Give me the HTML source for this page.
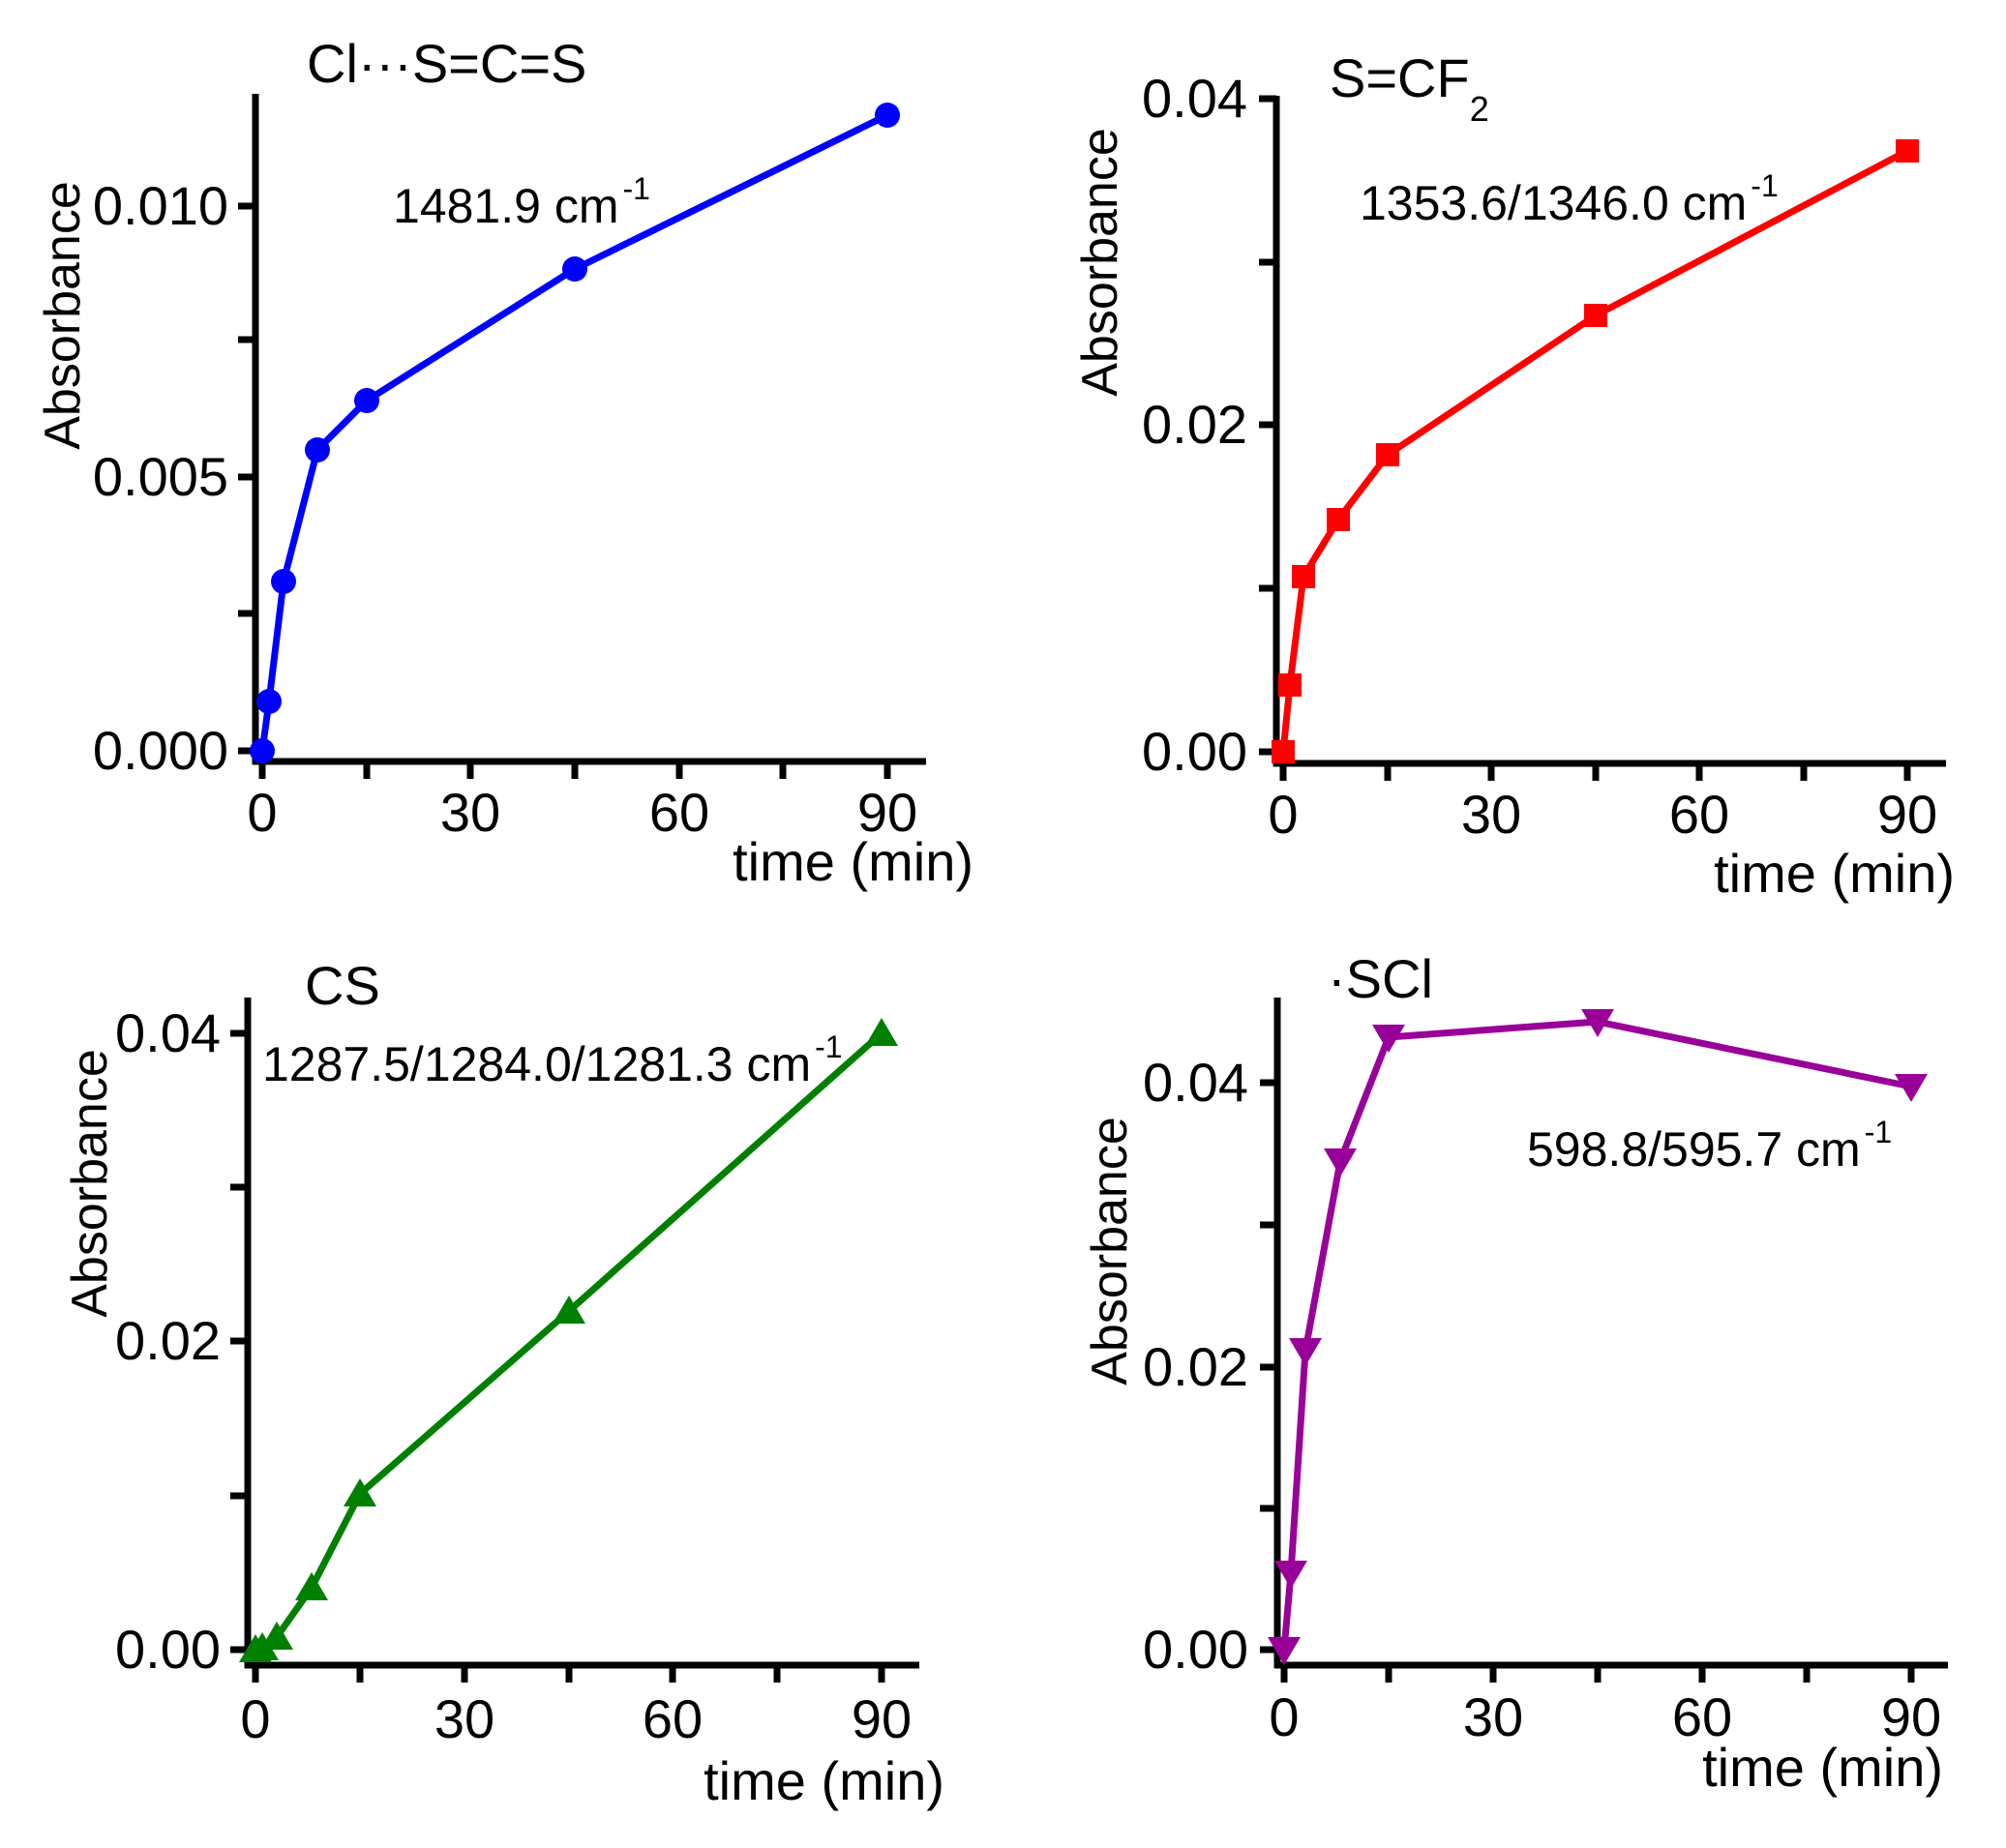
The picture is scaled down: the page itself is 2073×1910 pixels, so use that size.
<!DOCTYPE html>
<html><head><meta charset="utf-8"><style>html,body{margin:0;padding:0;background:#fff}svg{display:block}text{font-family:"Liberation Sans",Arial,sans-serif;fill:#000}</style></head>
<body>
<svg width="2073" height="1910" viewBox="0 0 2073 1910" xmlns="http://www.w3.org/2000/svg">
<rect width="2073" height="1910" fill="#fff"/>
<g stroke="#000" stroke-width="7" fill="none">
<path d="M264 97 V790 M261 787 H957"/>
<path d="M246 776H264 M246 634H264 M246 493H264 M246 351H264 M246 213H264"/>
<path d="M271 787V805 M379 787V805 M486 787V805 M594 787V805 M702 787V805 M809 787V805 M917 787V805"/>
<path d="M1319 99 V792 M1316 789 H2011"/>
<path d="M1301 777H1319 M1301 608H1319 M1301 439H1319 M1301 271H1319 M1301 102H1319"/>
<path d="M1326 789V807 M1434 789V807 M1541 789V807 M1649 789V807 M1756 789V807 M1864 789V807 M1971 789V807"/>
<path d="M256 1031 V1724 M253 1721 H950"/>
<path d="M238 1705H256 M238 1546H256 M238 1386H256 M238 1227H256 M238 1068H256"/>
<path d="M264 1721V1739 M372 1721V1739 M480 1721V1739 M588 1721V1739 M695 1721V1739 M803 1721V1739 M911 1721V1739"/>
<path d="M1320 1031 V1724 M1317 1721 H2013"/>
<path d="M1302 1705H1320 M1302 1559H1320 M1302 1413H1320 M1302 1266H1320 M1302 1119H1320"/>
<path d="M1327 1721V1739 M1435 1721V1739 M1543 1721V1739 M1651 1721V1739 M1759 1721V1739 M1867 1721V1739 M1975 1721V1739"/>
</g>
<g stroke-width="7" fill="none" stroke-linejoin="round">
<polyline stroke="#0000ff" points="271,776 278,725 293,601 328,465 379,414 594,278 917,119"/>
<polyline stroke="#ff0000" points="1326,777 1333,708 1347,596 1383,537 1434,470 1649,326 1971,156"/>
<polyline stroke="#008000" points="264,1705 271,1703 286,1692 322,1641 372,1544 588,1355 911,1068"/>
<polyline stroke="#990099" points="1327,1705 1334,1626 1349,1396 1385,1200 1435,1072 1651,1056 1975,1123"/>
</g>
<g fill="#0000ff">
<circle cx="271" cy="776" r="13"/><circle cx="278" cy="725" r="13"/><circle cx="293" cy="601" r="13"/><circle cx="328" cy="465" r="13"/><circle cx="379" cy="414" r="13"/><circle cx="594" cy="278" r="13"/><circle cx="917" cy="119" r="13"/>
</g>
<g fill="#ff0000">
<rect x="1314" y="765" width="24" height="24"/><rect x="1321" y="696" width="24" height="24"/><rect x="1335" y="584" width="24" height="24"/><rect x="1371" y="525" width="24" height="24"/><rect x="1422" y="458" width="24" height="24"/><rect x="1637" y="314" width="24" height="24"/><rect x="1959" y="144" width="24" height="24"/>
</g>
<g fill="#008000">
<path d="M264 1689 l17 29 h-34z M271 1687 l17 29 h-34z M286 1676 l17 29 h-34z M322 1625 l17 29 h-34z M372 1528 l17 29 h-34z M588 1339 l17 29 h-34z M911 1052 l17 29 h-34z"/>
</g>
<g fill="#990099">
<path d="M1327 1721 l17 -29 h-34z M1334 1642 l17 -29 h-34z M1349 1412 l17 -29 h-34z M1385 1216 l17 -29 h-34z M1435 1088 l17 -29 h-34z M1651 1072 l17 -29 h-34z M1975 1139 l17 -29 h-34z"/>
</g>
<g font-size="56">
<text x="236" y="795" text-anchor="end">0.000</text>
<text x="236" y="512" text-anchor="end">0.005</text>
<text x="236" y="232" text-anchor="end">0.010</text>
<text x="271" y="859" text-anchor="middle">0</text>
<text x="486" y="859" text-anchor="middle">30</text>
<text x="702" y="859" text-anchor="middle">60</text>
<text x="917" y="859" text-anchor="middle">90</text>
<text x="1006" y="910" text-anchor="end">time (min)</text>
<text x="317" y="85">Cl···S=C=S</text>
<text transform="translate(82,326) rotate(-90)" text-anchor="middle" font-size="52">Absorbance</text>
<text x="1289" y="796" text-anchor="end">0.00</text>
<text x="1289" y="458" text-anchor="end">0.02</text>
<text x="1289" y="121" text-anchor="end">0.04</text>
<text x="1326" y="861" text-anchor="middle">0</text>
<text x="1541" y="861" text-anchor="middle">30</text>
<text x="1756" y="861" text-anchor="middle">60</text>
<text x="1971" y="861" text-anchor="middle">90</text>
<text x="2020" y="922" text-anchor="end">time (min)</text>
<text x="1374" y="100">S=CF<tspan font-size="36" dy="25">2</tspan></text>
<text transform="translate(1154,271) rotate(-90)" text-anchor="middle" font-size="52">Absorbance</text>
<text x="228" y="1724" text-anchor="end">0.00</text>
<text x="228" y="1405" text-anchor="end">0.02</text>
<text x="228" y="1087" text-anchor="end">0.04</text>
<text x="264" y="1796" text-anchor="middle">0</text>
<text x="480" y="1796" text-anchor="middle">30</text>
<text x="695" y="1796" text-anchor="middle">60</text>
<text x="911" y="1796" text-anchor="middle">90</text>
<text x="976" y="1860" text-anchor="end">time (min)</text>
<text x="315" y="1038">CS</text>
<text transform="translate(110,1223) rotate(-90)" text-anchor="middle" font-size="52">Absorbance</text>
<text x="1290" y="1724" text-anchor="end">0.00</text>
<text x="1290" y="1432" text-anchor="end">0.02</text>
<text x="1290" y="1138" text-anchor="end">0.04</text>
<text x="1327" y="1794" text-anchor="middle">0</text>
<text x="1543" y="1794" text-anchor="middle">30</text>
<text x="1759" y="1794" text-anchor="middle">60</text>
<text x="1975" y="1794" text-anchor="middle">90</text>
<text x="2008" y="1846" text-anchor="end">time (min)</text>
<text x="1372" y="1031">·SCl</text>
<text transform="translate(1164,1293) rotate(-90)" text-anchor="middle" font-size="52">Absorbance</text>
</g>
<g font-size="50">
<text x="406" y="230">1481.9 cm<tspan font-size="32" dx="4" dy="-24">-1</tspan></text>
<text x="1405" y="227">1353.6/1346.0 cm<tspan font-size="32" dx="4" dy="-24">-1</tspan></text>
<text x="271" y="1117">1287.5/1284.0/1281.3 cm<tspan font-size="32" dx="4" dy="-24">-1</tspan></text>
<text x="1578" y="1205">598.8/595.7 cm<tspan font-size="32" dx="4" dy="-24">-1</tspan></text>
</g>
</svg>
</body></html>
